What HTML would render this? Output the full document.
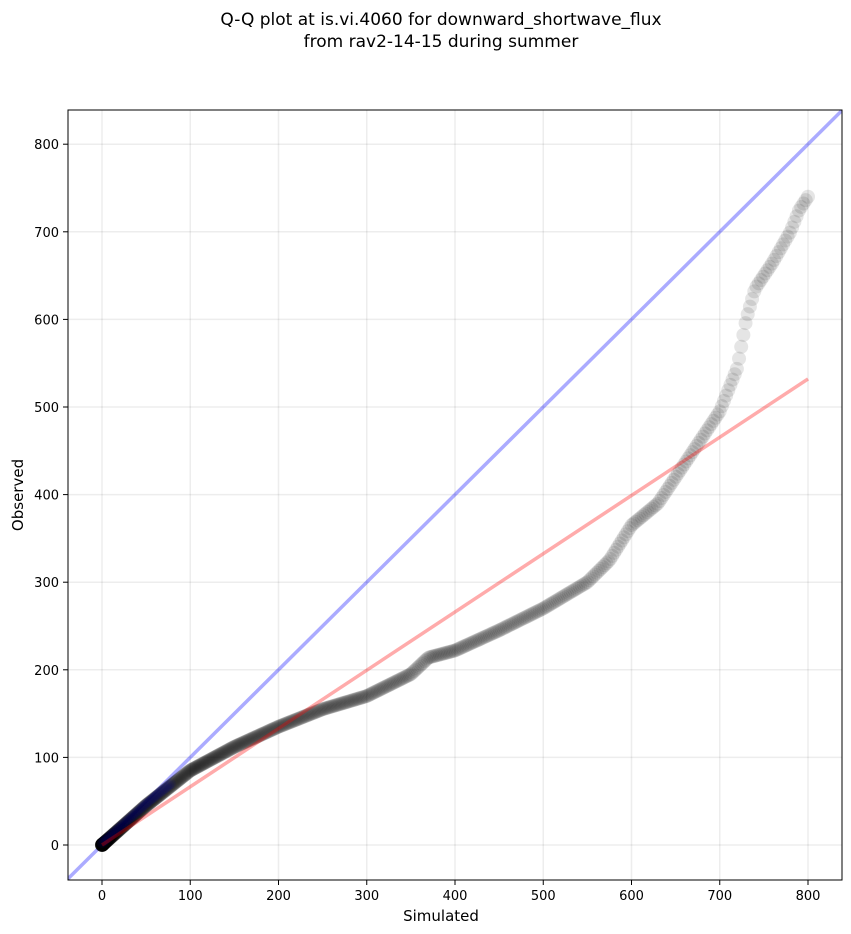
<!DOCTYPE html>
<html><head><meta charset="utf-8"><style>
body{margin:0;background:#fff;}
svg{display:block;font-family:"DejaVu Sans","Liberation Sans",sans-serif;}
</style></head><body>
<svg id="s" width="851" height="934" xmlns="http://www.w3.org/2000/svg">
<rect width="851" height="934" fill="#fff"/>
<text x="441" y="25" font-size="17" text-anchor="middle">Q-Q plot at is.vi.4060 for downward_shortwave_flux</text>
<text x="441" y="47" font-size="17" text-anchor="middle">from rav2-14-15 during summer</text>
<defs><clipPath id="c"><rect x="68" y="110" width="774" height="770"/></clipPath></defs>
<g id="grid" stroke="#000" stroke-opacity="0.07" stroke-width="1.5"></g>
<g id="pts" clip-path="url(#c)"></g>
<g id="ticks" font-size="13"></g>
<rect x="68" y="110" width="774" height="770" fill="none" stroke="#000" stroke-width="1"/>
<text x="441" y="921" font-size="15" text-anchor="middle">Simulated</text>
<text x="23" y="495" font-size="15" text-anchor="middle" transform="rotate(-90 23 495)">Observed</text>
</svg>
<script>
const NS="http://www.w3.org/2000/svg";
const X=v=>102+v*0.8825, Y=v=>845-v*0.876;
function el(p,t,a){const e=document.createElementNS(NS,t);for(const k in a)e.setAttribute(k,a[k]);p.appendChild(e);return e;}
const g=document.getElementById('grid'),tk=document.getElementById('ticks'),pts=document.getElementById('pts');
for(let v=0;v<=800;v+=100){
 el(g,'line',{x1:X(v),x2:X(v),y1:110,y2:880});
 el(g,'line',{x1:68,x2:842,y1:Y(v),y2:Y(v)});
 el(tk,'line',{x1:X(v),x2:X(v),y1:880,y2:885,stroke:'#000'});
 el(tk,'line',{x1:63,x2:68,y1:Y(v),y2:Y(v),stroke:'#000'});
 el(tk,'text',{x:X(v),y:900,'text-anchor':'middle'}).textContent=v;
 el(tk,'text',{x:59,y:Y(v)+5,'text-anchor':'end'}).textContent=v;
}
el(pts,'line',{x1:X(-40),y1:Y(-40),x2:X(840),y2:Y(840),stroke:'#0000ff','stroke-opacity':0.33,'stroke-width':3.5});
const k=[[0,0],[50,45],[100,85],[150,112],[200,135],[250,155],[300,170],[350,195],[370,214],[400,222],[450,245],[500,270],[550,300],[575,325],[600,365],[630,390],[650,420],[670,450],[690,480],[700,495],[710,520],[720,545],[730,600],[740,635],[760,665],[780,700],[790,725],[800,740]];
function f(s){for(let i=1;i<k.length;i++){if(s<=k[i][0]){const a=k[i-1],b=k[i];return a[1]+(b[1]-a[1])*(s-a[0])/(b[0]-a[0]);}}return 740;}
const N=650;
for(let i=0;i<N;i++){const t=i/(N-1);const s=800*Math.pow(t,2.1);
 el(pts,'circle',{cx:X(s),cy:Y(f(s)),r:7,fill:'#000','fill-opacity':0.1});}
for(let i=0;i<40;i++){const s=i*2;el(pts,'circle',{cx:X(s),cy:Y(f(s))-2,r:5,fill:'#0000aa','fill-opacity':0.1});}
el(pts,'line',{x1:X(0),y1:Y(0),x2:X(800),y2:Y(532),stroke:'#ff0000','stroke-opacity':0.33,'stroke-width':3.5});
</script>
</body></html>
